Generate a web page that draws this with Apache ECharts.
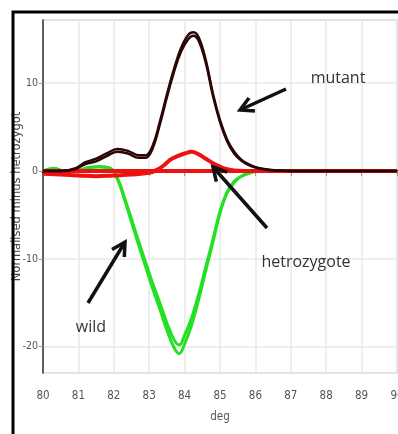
<!DOCTYPE html>
<html><head><meta charset="utf-8">
<script src="https://cdn.jsdelivr.net/npm/echarts@6/dist/echarts.min.js"></script>
<style>html,body{margin:0;padding:0;background:#fff}#c{width:398px;height:434px}</style>
</head><body><div id="c"></div>
<script>
// ---- data ----
const xTicks = [80,81,82,83,84,85,86,87,88,89,90];
const yTicks = [-20,-10,0,10];

const mutantX = [80,80.5,80.9,81.2,81.5,81.8,82.1,82.4,82.7,82.9,83.1,83.3,83.5,83.7,83.9,84.1,84.25,84.4,84.6,84.8,85.0,85.2,85.4,85.6,85.8,86.0,86.3,86.6,87,88,89,90];
const mutantA = [0,0,0.2,0.8,1.1,1.7,2.2,2.0,1.5,1.5,2.6,5.3,8.4,11.3,13.6,15.0,15.4,14.8,12.3,8.6,5.6,3.4,2.0,1.2,0.7,0.4,0.15,0.05,0,0,0,0];
const mutantB = [0,0,0.3,1.0,1.4,2.0,2.5,2.3,1.8,1.8,2.9,5.6,8.7,11.6,14.0,15.5,15.8,15.2,12.6,8.8,5.8,3.6,2.2,1.3,0.8,0.45,0.2,0.05,0,0,0,0];

const wildX = [80,80.3,80.6,81,81.3,81.6,81.9,82.1,82.3,82.5,82.7,82.9,83.1,83.3,83.5,83.7,83.85,84.0,84.2,84.4,84.6,84.8,85.0,85.2,85.4,85.6,85.85,86.1,86.5,87,90];
const wildA = [0,0.3,0,0.1,0.4,0.5,0.3,-0.8,-3,-5.5,-8,-10.4,-12.8,-15,-17.3,-19.2,-19.8,-18.7,-16.7,-14,-10.9,-7.8,-4.6,-2.4,-1.2,-0.6,-0.2,0,0,0,0];
const wildB = [0,0.3,0,0.1,0.4,0.5,0.3,-0.9,-3.2,-5.8,-8.4,-10.9,-13.4,-15.7,-18.1,-20.1,-20.8,-19.7,-17.5,-14.6,-11.3,-8.1,-4.8,-2.5,-1.3,-0.6,-0.2,0,0,0,0];

const hetX = [80,80.5,81,81.5,82,82.5,83,83.2,83.4,83.6,83.8,84.0,84.2,84.4,84.6,84.8,85.0,85.2,85.4,85.7,86,90];
const hetY = [-0.3,-0.4,-0.5,-0.6,-0.5,-0.4,-0.2,0.1,0.6,1.3,1.7,2.0,2.2,1.9,1.4,0.9,0.5,0.2,0.05,0,0,0];
const baseX = [80,90];
const baseY = [0,0];

const zip = (xs, ys) => xs.map((x, i) => [x, ys[i]]);

// ---- chart ----
const chart = echarts.init(document.getElementById('c'), null, {renderer:'canvas'});
const tickFont = "'Liberation Sans Narrow','DejaVu Sans Condensed','Liberation Sans',sans-serif";

function arrow(x1, y1, x2, y2) {
  const ang = Math.atan2(y2 - y1, x2 - x1);
  const L = 15, a = 0.5;
  const p1 = [x2 - L * Math.cos(ang - a), y2 - L * Math.sin(ang - a)];
  const p2 = [x2 - L * Math.cos(ang + a), y2 - L * Math.sin(ang + a)];
  return [
    {type:'polyline', shape:{points:[[x1,y1],[x2,y2]]}, style:{stroke:'#111', lineWidth:3.5}, z:100},
    {type:'polyline', shape:{points:[p1,[x2,y2],p2]}, style:{stroke:'#111', lineWidth:3.5, fill:null, lineJoin:'miter'}, z:100}
  ];
}

const labelStyle = {fontFamily:"'Open Sans',sans-serif", fontSize:16, fill:'#333', textAlign:'center', textVerticalAlign:'middle'};

chart.setOption({
  animation:false,
  backgroundColor:'#fff',
  grid:{left:43, top:20, right:1, bottom:61, show:true, borderColor:'#aaa', borderWidth:1, outerBoundsMode:'none', containLabel:false},
  xAxis:{
    type:'value', min:80, max:90, interval:1,
    name:'deg', nameLocation:'middle', nameGap:38, nameMoveOverlap:false,
    nameTextStyle:{fontFamily:tickFont, fontSize:11.5, color:'#555'},
    axisLine:{show:true, lineStyle:{color:'#000', width:3}},
    axisTick:{show:true, length:5, lineStyle:{color:'#999'}},
    axisLabel:{fontFamily:tickFont, fontSize:11.5, color:'#555', margin:17},
    splitLine:{show:true, lineStyle:{color:'#e8e8e8', width:1.5}}
  },
  yAxis:{
    type:'value', min:-23, max:17.2, splitNumber:4,
    name:'Normalised minus hetrozygot', nameLocation:'middle', nameGap:20, nameMoveOverlap:false,
    nameTextStyle:{fontFamily:"'DejaVu Sans',sans-serif", fontSize:11.5, color:'#444'},
    axisLine:{show:true, onZero:false, lineStyle:{color:'#333', width:1.5}},
    axisTick:{show:true, length:4, lineStyle:{color:'#999'}},
    axisLabel:{fontFamily:tickFont, fontSize:10.5, color:'#555', margin:5, showMinLabel:false, showMaxLabel:false},
    splitLine:{show:true, lineStyle:{color:'#e8e8e8', width:1.5}}
  },
  series:[
    {type:'line', data:zip(wildX, wildA), smooth:0.4, showSymbol:false, lineStyle:{color:'#22e022', width:3}, z:2},
    {type:'line', data:zip(wildX, wildB), smooth:0.4, showSymbol:false, lineStyle:{color:'#22e022', width:3}, z:2},
    {type:'line', data:zip(baseX, baseY), showSymbol:false, lineStyle:{color:'#ee1111', width:4}, z:3},
    {type:'line', data:zip(hetX, hetY), smooth:0.4, showSymbol:false, lineStyle:{color:'#ee1111', width:4}, z:3},
    {type:'line', data:zip(mutantX, mutantA), smooth:0.4, showSymbol:false, lineStyle:{color:'#2a0606', width:2.5}, z:4},
    {type:'line', data:zip(mutantX, mutantB), smooth:0.4, showSymbol:false, lineStyle:{color:'#2a0606', width:2.5}, z:4}
  ],
  graphic:[
    {type:'rect', shape:{x:13, y:12, width:500, height:500}, style:{stroke:'#000', lineWidth:3, fill:null}, z:100},
    {type:'text', x:338, y:78, style:Object.assign({text:'mutant'}, labelStyle), z:100},
    {type:'text', x:306, y:262, style:Object.assign({text:'hetrozygote'}, labelStyle), z:100},
    {type:'text', x:91, y:327, style:Object.assign({text:'wild'}, labelStyle), z:100},
    ...arrow(286, 89, 240, 110),
    ...arrow(267, 228, 213, 167),
    ...arrow(88, 303, 125, 242)
  ]
});
</script></body></html>
